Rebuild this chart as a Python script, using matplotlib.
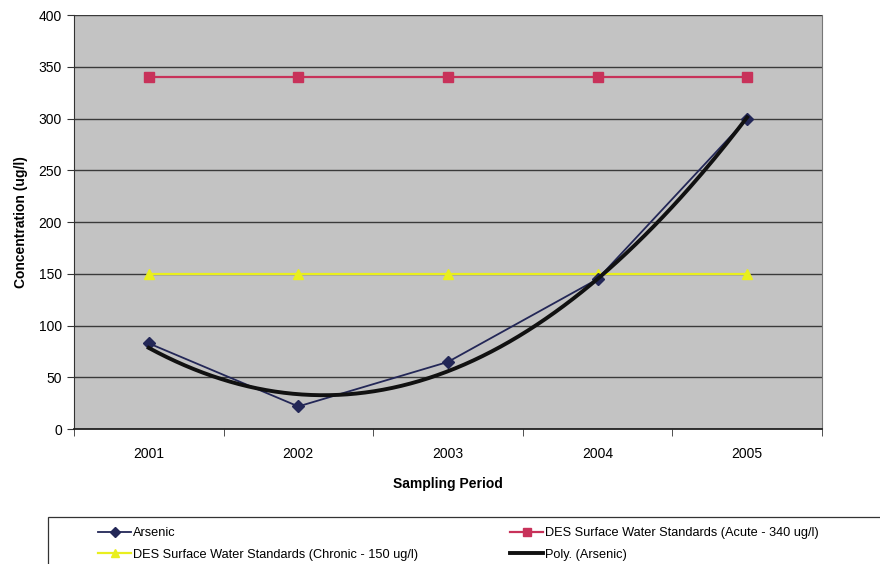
import numpy as np
import matplotlib.pyplot as plt
from matplotlib.patches import Rectangle

plt.rcParams["font.family"] = ["Liberation Sans", "DejaVu Sans"]

years = ["2001", "2002", "2003", "2004", "2005"]
arsenic = [83, 22, 65, 145, 300]
acute = [340, 340, 340, 340, 340]
chronic = [150, 150, 150, 150, 150]

x = np.arange(1, len(years) + 1)

fig = plt.figure(figsize=(8.8, 5.64), dpi=100)
ax = fig.add_axes([0.084, 0.239, 0.850, 0.734])
ax.set_facecolor("#c3c3c3")

# second-order polynomial trendline through the arsenic samples
coef = np.polyfit(x, arsenic, 2)
xs = np.linspace(x[0], x[-1], 200)
trend = np.polyval(coef, xs)

h_ars, = ax.plot(x, arsenic, color="#232757", lw=1.3, marker="D", ms=6,
                 label="Arsenic", zorder=4)
h_acu, = ax.plot(x, acute, color="#c8325a", lw=1.6, marker="s", ms=7,
                 label="DES Surface Water Standards (Acute - 340 ug/l)", zorder=3)
h_chr, = ax.plot(x, chronic, color="#e9ef1e", lw=1.6, marker="^", ms=7,
                 label="DES Surface Water Standards (Chronic - 150 ug/l)", zorder=3)
h_poly, = ax.plot(xs, trend, color="#111111", lw=2.8,
                  label="Poly. (Arsenic)", zorder=5)

ax.set_xlim(0.5, len(years) + 0.5)
ax.set_ylim(0, 400)
ax.set_yticks(np.arange(0, 401, 50))
ax.yaxis.grid(True, color="#3a3a3a", lw=1.0)
ax.set_axisbelow(True)

ax.set_xticks(x)
ax.set_xticklabels(years, fontsize=10)
ax.set_xticks(np.arange(0.5, len(years) + 1, 1), minor=True)
ax.tick_params(axis="x", which="major", length=0, pad=13)
ax.tick_params(axis="x", which="minor", length=5, color="#333333")
ax.tick_params(axis="y", length=5, labelsize=10, color="#333333")

ax.spines["top"].set_visible(False)
ax.spines["left"].set_color("#333333")
ax.spines["bottom"].set_color("#222222")
ax.spines["bottom"].set_linewidth(1.3)
ax.spines["right"].set_color("#777777")

ax.set_xlabel("Sampling Period", fontsize=10, fontweight="bold", labelpad=11)
ax.set_ylabel("Concentration (ug/l)", fontsize=10, fontweight="bold", labelpad=8)

# legend box runs off the right and bottom edges of the figure
fig.patches.append(Rectangle((48 / 880, -0.05), 1.0, 0.05 + 1 - 517 / 564,
                             transform=fig.transFigure, fill=False,
                             edgecolor="#333333", lw=0.9))

leg = fig.legend([h_ars, h_chr, h_acu, h_poly],
                 [h.get_label() for h in (h_ars, h_chr, h_acu, h_poly)],
                 loc="upper left", bbox_to_anchor=(98 / 880, 1 - 527 / 564),
                 ncol=2, fontsize=9.2, frameon=False, borderpad=0,
                 borderaxespad=0, handlelength=2.6, handletextpad=0.15,
                 labelspacing=0.75, columnspacing=7.2, markerscale=0.8)

fig.savefig("out.png", dpi=100)
